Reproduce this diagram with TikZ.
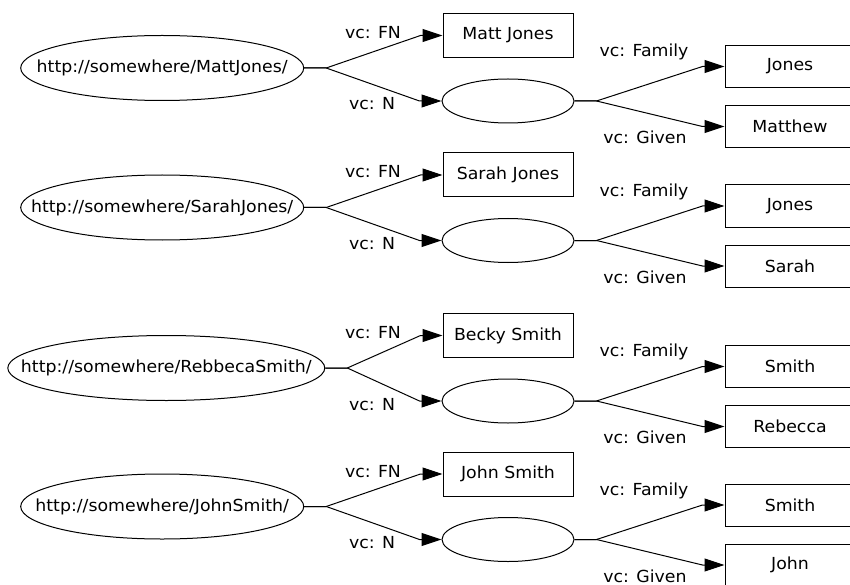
\documentclass[tikz,border=0pt]{standalone}
\usepackage{fontspec}
\setmainfont[FakeStretch=1.045]{DejaVu Sans}
\usetikzlibrary{shapes.geometric,arrows.meta,calc}

\tikzset{
  every node/.style={font=\fontsize{16.6pt}{20pt}\selectfont},
  uri/.style={ellipse,draw,line width=1pt,inner sep=0pt,minimum height=65pt},
  blank/.style={ellipse,draw,line width=1pt,inner sep=0pt,minimum width=132pt,minimum height=44pt},
  lit/.style={rectangle,draw,line width=1pt,inner sep=0pt,minimum width=130pt,minimum height=44pt},
  part/.style={lit,minimum height=42pt},
  prop/.style={anchor=base,inner sep=0pt},
  rel/.style={line width=1pt,-{Triangle[length=20pt,width=13pt]}},
}

% One vCard resource: #1 id, #2 centre line (y), #3 uri centre x, #4 uri width,
% #5 uri text, #6 formatted name, #7 family name, #8 given name
\newcommand\vcgroup[8]{%
  \node[uri,minimum width=#4] (uri#1) at (#3,#2) {\makebox[0pt]{#5}};
  \node[lit] (fn#1) at (508,#2-32.5) {#6};
  \node[blank] (n#1) at (508,#2+33) {};
  \node[part] (fam#1) at (790,#2-1.5) {#7};
  \node[part] (giv#1) at (790,#2+58.5) {#8};
  \node[prop] (lfn#1) at (373,#2-29.5) {vc: FN};
  \node[prop] (ln#1) at (372,#2+42) {vc: N};
  \node[prop] (lfam#1) at (644,#2-11.3) {vc: Family};
  \node[prop] (lgiv#1) at (645,#2+75.5) {vc: Given};
  \draw[rel] (uri#1.east) -- ++(22,0) -- ($(fn#1.west)+(-22,0)$) -- (fn#1.west);
  \draw[rel] (uri#1.east) -- ++(22,0) -- ($(n#1.west)+(-22,0)$) -- (n#1.west);
  \draw[rel] (n#1.east) -- ++(22,0) -- ($(fam#1.west)+(-22,0)$) -- (fam#1.west);
  \draw[rel] (n#1.east) -- ++(22,0) -- ($(giv#1.west)+(-22,0)$) -- (giv#1.west);
}

\begin{document}
\begin{tikzpicture}[x=1pt,y=-1pt]
  \useasboundingbox (0,0) rectangle (850,585);
  \clip (0,0) rectangle (850,585);
  \vcgroup{a}{68}{162.2}{283pt}{http://somewhere/MattJones/}{Matt Jones}{Jones}{Matthew}
  \vcgroup{b}{207.5}{162.2}{283pt}{http://somewhere/SarahJones/}{Sarah Jones}{Jones}{Sarah}
  \vcgroup{c}{368}{166.3}{317pt}{http://somewhere/RebbecaSmith/}{Becky Smith}{Smith}{Rebecca}
  \vcgroup{d}{506.5}{162.2}{283pt}{http://somewhere/JohnSmith/}{John Smith}{Smith}{John}
\end{tikzpicture}
\end{document}
